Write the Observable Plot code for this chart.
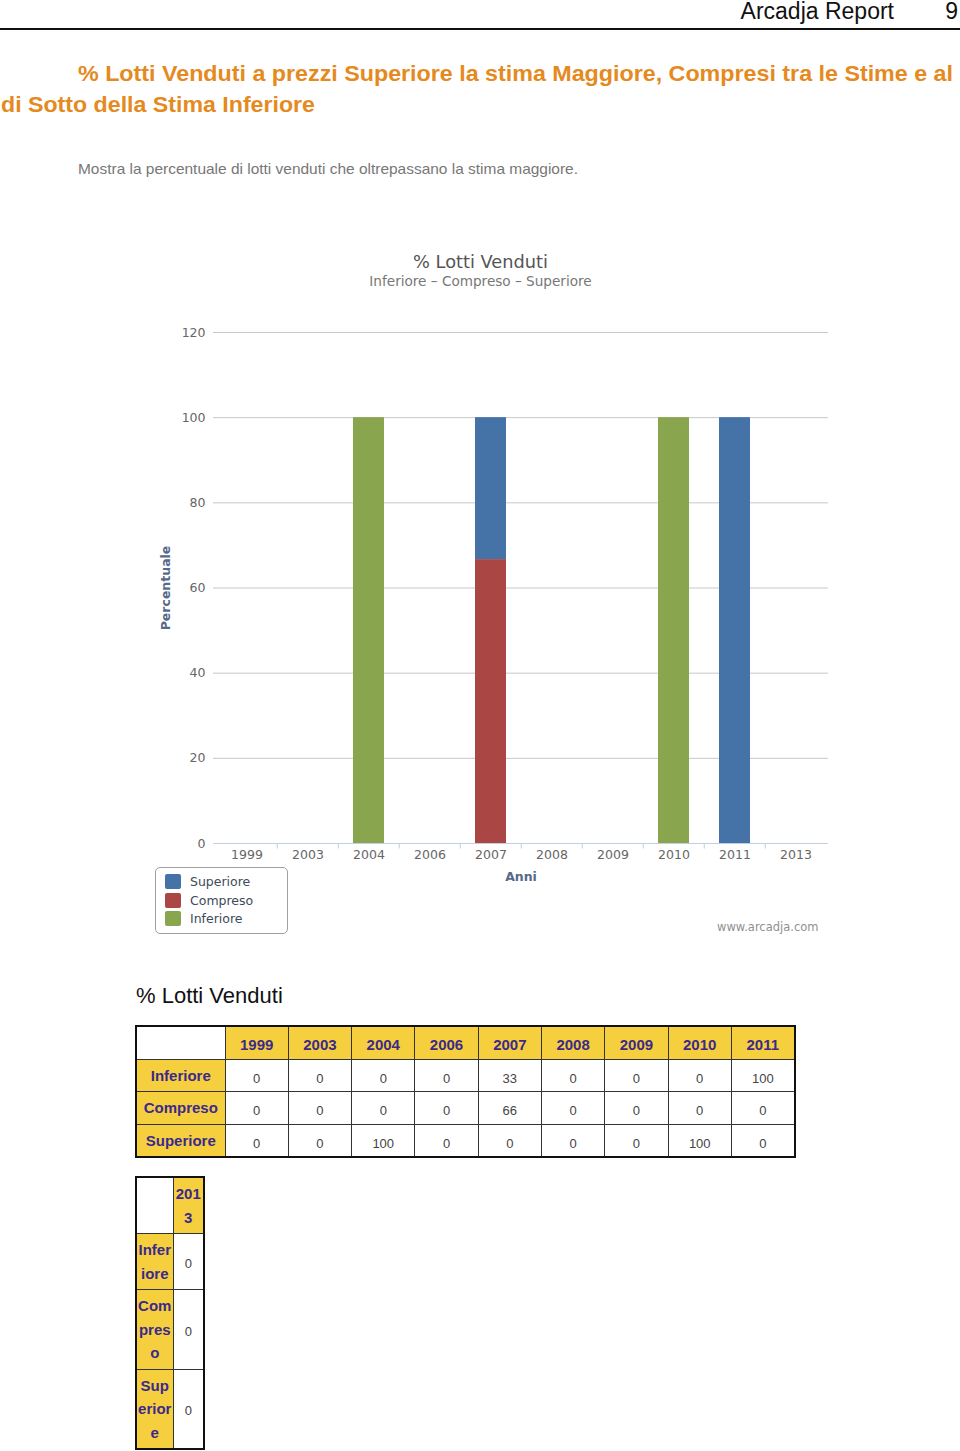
<!DOCTYPE html>
<html>
<head>
<meta charset="utf-8">
<script src="https://cdn.jsdelivr.net/npm/d3@7"></script>
<script src="https://cdn.jsdelivr.net/npm/@observablehq/plot@0.6"></script>
<style>
  html, body { margin: 0; padding: 0; background: #fff; }
  body { width: 960px; height: 1451px; position: relative; overflow: hidden; font-family: "Liberation Sans", Arial, sans-serif; }
  .abs { position: absolute; white-space: nowrap; }
  #hdr { right: 66px; top: -2px; font-size: 23px; color: #111; }
  #pg { right: 2px; top: -2px; font-size: 23px; color: #111; }
  #hline { left: 0; top: 28px; width: 960px; height: 2px; background: #111; }
  .ttl { font-size: 22px; font-weight: bold; color: #e48a1e; transform-origin: left top; }
  .fit { transform-origin: left top; }
  #sub { left: 78px; top: 161px; font-size: 14.5px; color: #777; }
  #chart { left: 0; top: 240px; }
  #legend { left: 155px; top: 867px; width: 131px; height: 65px; border: 1px solid #a0a0a0; border-radius: 5px; font-family: "DejaVu Sans", sans-serif; font-size: 12.5px; color: #3e4a5a; }
  .li { position: absolute; left: 9px; height: 16px; line-height: 16px; }
  .sw { display: inline-block; width: 16px; height: 15px; border-radius: 2px; vertical-align: top; margin-right: 9px; }
  #ttitle { left: 136px; top: 983px; font-size: 22px; color: #111; }
  table { border-collapse: collapse; position: absolute; table-layout: fixed; font-family: "Liberation Sans", Arial, sans-serif; }
  td { border: 1px solid #333; padding: 0; text-align: center; }
  td.h { background: #f6cf3f; color: #3b2a8c; font-weight: bold; font-size: 15px; }
  td.e { background: #fff; }
  td.v { color: #444; font-size: 13px; }
  #t1 { left: 135px; top: 1025px; border: 2px solid #111; }
  #t1 td { height: 31.5px; }
  #t1 td.v { padding-top: 6px; height: 25.5px; }
  #t1 td.hy { padding-top: 3px; height: 28.5px; }
  #t2 { left: 135px; top: 1176px; border: 2px solid #111; }
  #t2 td { word-break: break-all; line-height: 23.5px; padding: 4px 1px; }
  #t2 td.v { padding-top: 8px; }
</style>
</head>
<body>
<div class="abs" id="hdr">Arcadja Report</div>
<div class="abs" id="pg">9</div>
<div class="abs" id="hline"></div>
<div class="abs ttl fit" id="t1a" style="left:78px; top:61px;" data-w="875">% Lotti Venduti a prezzi Superiore la stima Maggiore, Compresi tra le Stime e al</div>
<div class="abs ttl fit" id="t1b" style="left:1px; top:92px;" data-w="314">di Sotto della Stima Inferiore</div>
<div class="abs fit" id="sub" data-w="500">Mostra la percentuale di lotti venduti che oltrepassano la stima maggiore.</div>
<div class="abs" id="chart"></div>
<div class="abs" id="legend"></div>
<div class="abs" id="ttitle">% Lotti Venduti</div>
<table id="t1"></table>
<table id="t2"></table>
<script>
// ---- data ----
const years = ["1999", "2003", "2004", "2006", "2007", "2008", "2009", "2010", "2011", "2013"];
const inferiore = [0, 0, 0, 0, 33, 0, 0, 0, 100, 0];
const compreso  = [0, 0, 0, 0, 66, 0, 0, 0, 0, 0];
const superiore = [0, 0, 100, 0, 0, 0, 0, 100, 0, 0];
const seriesNames = ["Inferiore", "Compreso", "Superiore"];
const yTicks = [0, 20, 40, 60, 80, 100, 120];
const tableYears1 = ["1999", "2003", "2004", "2006", "2007", "2008", "2009", "2010", "2011"];
const tableYears2 = ["2013"];
const chartTitle = "% Lotti Venduti";
const chartSubtitle = "Inferiore – Compreso – Superiore";
const legendNames = ["Superiore", "Compreso", "Inferiore"];

// ---- styles (colours as drawn in the reference) ----
const barColor = {Superiore: "#89a54e", Compreso: "#aa4643", Inferiore: "#4572a7"};
const legendColor = {Superiore: "#4572a7", Compreso: "#aa4643", Inferiore: "#89a54e"};

const seriesValues = {Inferiore: inferiore, Compreso: compreso, Superiore: superiore};
// bars are stacked as percentages of each year's total (percent stacking)
const totals = years.map((y, i) => seriesNames.reduce((s, n) => s + seriesValues[n][i], 0));
const rows = [];
for (const s of seriesNames) years.forEach((y, i) => rows.push({
  year: y, series: s,
  pct: totals[i] ? seriesValues[s][i] / totals[i] * 100 : 0
}));

const mL = 213, mR = 132, W = 960;
const step = (W - mL - mR) / years.length;
const frameCenterShift = 480 - (mL + (W - mL - mR) / 2);

const chart = Plot.plot({
  width: W, height: 700,
  marginLeft: mL, marginRight: mR, marginTop: 92, marginBottom: 97,
  style: {fontFamily: "DejaVu Sans, sans-serif", fontSize: "12px", color: "#666", background: "#fff", overflow: "visible"},
  x: {domain: years, paddingInner: 0.5, paddingOuter: 0.25, axis: null},
  y: {domain: [0, 120], axis: null},
  marks: [
    Plot.gridY(yTicks, {stroke: "#c8c8c8", strokeOpacity: 1, strokeWidth: 1}),
    Plot.ruleY([0], {stroke: "#c0d0e0", strokeWidth: 1}),
    Plot.ruleX(years.slice(1), {x: d => d, dx: -step / 2, y1: 0, y2: -1.3, stroke: "#c0d0e0"}),
    Plot.barY(rows, Plot.stackY({order: ["Superiore", "Compreso", "Inferiore"]}, {x: "year", y: "pct", z: "series", fill: d => barColor[d.series]})),
    Plot.axisY(yTicks, {tickSize: 0, tickPadding: 8, label: null, fontSize: 12.5, fill: "#666"}),
    Plot.axisX(years, {tickSize: 0, tickPadding: 7, label: null, fontSize: 12.5, fill: "#666"}),
    Plot.text([chartTitle], {frameAnchor: "top", dx: frameCenterShift, dy: -77, fontSize: 17.8, fill: "#555"}),
    Plot.text([chartSubtitle], {frameAnchor: "top", dx: frameCenterShift, dy: -56, fontSize: 13.6, fill: "#777"}),
    Plot.text(["Percentuale"], {frameAnchor: "left", textAnchor: "middle", lineAnchor: "middle", dx: -48, rotate: -90, fontSize: 12.5, fontWeight: "bold", fill: "#56698a"}),
    Plot.text(["Anni"], {frameAnchor: "bottom", dy: 37, fontSize: 12.5, fontWeight: "bold", fill: "#56698a"}),
    Plot.text(["www.arcadja.com"], {frameAnchor: "bottom-right", dx: -10, dy: 87, textAnchor: "end", fontSize: 11.5, fill: "#909090"})
  ]
});
document.getElementById("chart").appendChild(chart);

// legend
const leg = document.getElementById("legend");
legendNames.forEach((n, i) => {
  const d = document.createElement("div");
  d.className = "li";
  d.style.top = (6 + i * 18.5) + "px";
  d.innerHTML = `<span class="sw" style="background:${legendColor[n]}"></span>${n}`;
  leg.appendChild(d);
});

// tables
function buildTable(el, ys, w0, wc) {
  const idx = ys.map(y => years.indexOf(y));
  let html = `<colgroup><col style="width:${w0}px">` + ys.map(() => `<col style="width:${wc}px">`).join("") + `</colgroup>`;
  html += `<tr><td class="e"></td>` + ys.map(y => `<td class="h hy">${y}</td>`).join("") + `</tr>`;
  for (const s of seriesNames) {
    html += `<tr><td class="h">${s}</td>` + idx.map(i => `<td class="v">${seriesValues[s][i]}</td>`).join("") + `</tr>`;
  }
  el.innerHTML = html;
}
buildTable(document.getElementById("t1"), tableYears1, 89, 63.3);
buildTable(document.getElementById("t2"), tableYears2, 37, 31);

// fit text lines to reference widths
document.querySelectorAll(".fit").forEach(el => {
  const w = el.getBoundingClientRect().width;
  el.style.transform = `scaleX(${(+el.dataset.w / w).toFixed(4)})`;
});
</script>
</body>
</html>
